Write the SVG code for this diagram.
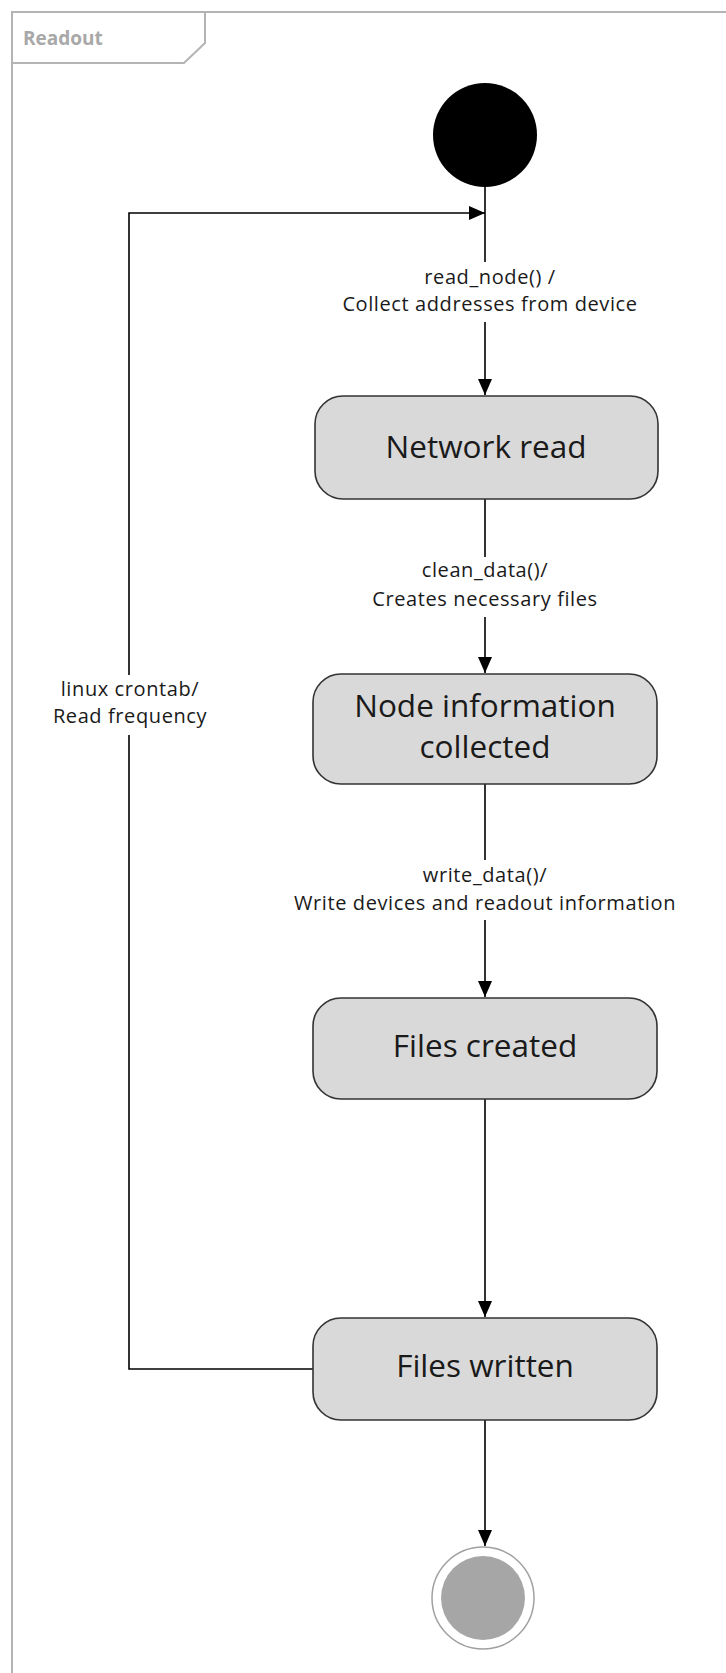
<svg xmlns="http://www.w3.org/2000/svg" width="726" height="1673" viewBox="0 0 726 1673">
<defs>
<marker id="arr" viewBox="0 0 16 14" refX="16" refY="7" markerWidth="16" markerHeight="14" markerUnits="userSpaceOnUse" orient="auto">
<path d="M0,0 L16,7 L0,14 Z" fill="#000"/>
</marker>
<style>
.frame{fill:none;stroke:#b4b4b4;stroke-width:2}
.title{font-family:"Open Sans","DejaVu Sans",sans-serif;font-size:19px;font-weight:bold;fill:#a8a8a8}
.state{fill:#d9d9d9;stroke:#333;stroke-width:1.6}
.stext{font-family:"Open Sans","DejaVu Sans",sans-serif;font-size:31.5px;fill:#1a1a1a;text-anchor:middle}
.lbl{font-family:"Open Sans","DejaVu Sans",sans-serif;font-size:20px;letter-spacing:0.6px;fill:#1a1a1a;text-anchor:middle}
.ln{fill:none;stroke:#000;stroke-width:1.6}
</style>
</defs>
<g id="frame">
<path class="frame" d="M12,1673 L12,12 L726,12"/>
<path class="frame" d="M12,63 L184,63 L205,43 L205,12"/>
<text class="title" x="23" y="45">Readout</text>
</g>
<g id="connectors">
<path class="ln" d="M485,187 L485,262"/>
<path class="ln" d="M485,322 L485,395" marker-end="url(#arr)"/>
<path class="ln" d="M485,499 L485,557"/>
<path class="ln" d="M485,617 L485,673" marker-end="url(#arr)"/>
<path class="ln" d="M485,784 L485,860"/>
<path class="ln" d="M485,920 L485,997" marker-end="url(#arr)"/>
<path class="ln" d="M485,1099 L485,1317" marker-end="url(#arr)"/>
<path class="ln" d="M485,1420 L485,1546" marker-end="url(#arr)"/>
<path class="ln" d="M313,1369 L129,1369 L129,735"/>
<path class="ln" d="M129,675 L129,213 L485,213" marker-end="url(#arr)"/>
<text class="lbl" x="490" y="284">read_node() /</text>
<text class="lbl" x="490" y="311">Collect addresses from device</text>
<text class="lbl" x="485" y="577">clean_data()/</text>
<text class="lbl" x="485" y="606">Creates necessary files</text>
<text class="lbl" x="485" y="882">write_data()/</text>
<text class="lbl" x="485" y="910">Write devices and readout information</text>
<text class="lbl" x="130" y="696">linux crontab/</text>
<text class="lbl" x="130" y="723">Read frequency</text>
</g>
<g id="start">
<circle cx="485" cy="135" r="52" fill="#000"/>
</g>
<g id="network-read">
<rect class="state" x="315" y="396" width="343" height="103" rx="28"/>
<text class="stext" x="486" y="458">Network read</text>
</g>
<g id="node-information-collected">
<rect class="state" x="313" y="674" width="344" height="110" rx="28"/>
<text class="stext" x="485" y="717">Node information</text>
<text class="stext" x="485" y="758">collected</text>
</g>
<g id="files-created">
<rect class="state" x="313" y="998" width="344" height="101" rx="28"/>
<text class="stext" x="485" y="1057">Files created</text>
</g>
<g id="files-written">
<rect class="state" x="313" y="1318" width="344" height="102" rx="28"/>
<text class="stext" x="485" y="1377">Files written</text>
</g>
<g id="end">
<circle cx="483" cy="1598" r="51" fill="#fff" stroke="#a0a0a0" stroke-width="1.5"/>
<circle cx="483" cy="1598" r="42" fill="#a6a6a6"/>
</g>
</svg>
